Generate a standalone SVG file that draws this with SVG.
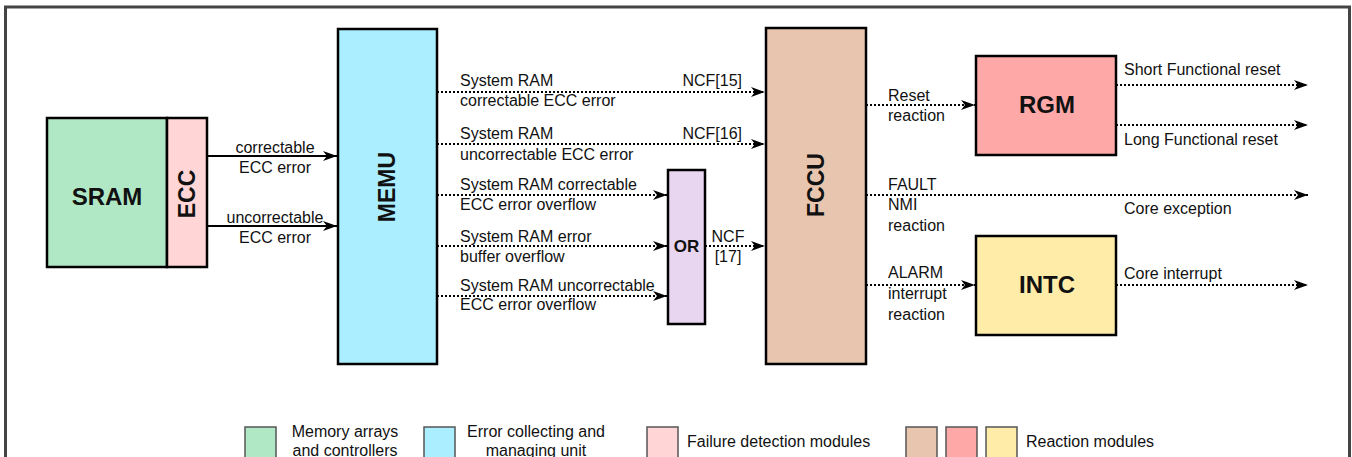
<svg xmlns="http://www.w3.org/2000/svg" width="1352" height="457" viewBox="0 0 1352 457">
<defs>
<marker id="ah" viewBox="0 0 14 10" refX="14" refY="5" markerWidth="14" markerHeight="10" markerUnits="userSpaceOnUse" orient="auto">
<path d="M0,0 L14,5 L0,10 L4,5 Z" fill="#000"/>
</marker>
</defs>
<style>
text{font-family:"Liberation Sans",Arial,sans-serif;fill:#111}
.t{font-size:16px}
.b{font-weight:bold}
.box{stroke:#000;stroke-width:2.5}
.lg{stroke:#555;stroke-width:1.5}
.sol{stroke:#000;stroke-width:2;fill:none}
.dot{stroke:#000;stroke-width:2;stroke-dasharray:2 2;fill:none}
</style>
<rect x="5.5" y="7" width="1344" height="520" fill="#fff" stroke="#444" stroke-width="3"/>

<g id="sram">
<rect class="box" x="47" y="118" width="120" height="149" fill="#b0e8c6"/>
<text class="b" x="107" y="205" font-size="24" text-anchor="middle">SRAM</text>
</g>
<g id="ecc">
<rect class="box" x="167" y="118" width="40" height="149" fill="#ffd5d5"/>
<text class="b" font-size="23" text-anchor="middle" transform="translate(195,194) rotate(-90)">ECC</text>
</g>
<g id="memu">
<rect class="box" x="338" y="29" width="99" height="335" fill="#aaeeff"/>
<text class="b" font-size="23" text-anchor="middle" transform="translate(395,187) rotate(-90)">MEMU</text>
</g>
<g id="or">
<rect class="box" x="668" y="170" width="37" height="154" fill="#e8d5f0"/>
<text class="b" x="686.5" y="252" font-size="17" text-anchor="middle">OR</text>
</g>
<g id="fccu">
<rect class="box" x="766" y="28" width="100" height="336" fill="#e8c5ae"/>
<text class="b" font-size="23" text-anchor="middle" transform="translate(824,185) rotate(-90)">FCCU</text>
</g>
<g id="rgm">
<rect class="box" x="976" y="56" width="140" height="99" fill="#ffa8a8"/>
<text class="b" x="1047" y="113" font-size="24" text-anchor="middle">RGM</text>
</g>
<g id="intc">
<rect class="box" x="976" y="236" width="140" height="99" fill="#ffeca8"/>
<text class="b" x="1047" y="293" font-size="24" text-anchor="middle">INTC</text>
</g>

<g id="connectors">
<line class="sol" x1="207" y1="156" x2="337" y2="156" marker-end="url(#ah)"/>
<line class="sol" x1="207" y1="226" x2="337" y2="226" marker-end="url(#ah)"/>
<line class="dot" x1="437" y1="92" x2="765" y2="92" marker-end="url(#ah)"/>
<line class="dot" x1="437" y1="144" x2="765" y2="144" marker-end="url(#ah)"/>
<line class="dot" x1="437" y1="195" x2="667" y2="195" marker-end="url(#ah)"/>
<line class="dot" x1="437" y1="246" x2="667" y2="246" marker-end="url(#ah)"/>
<line class="dot" x1="437" y1="296" x2="667" y2="296" marker-end="url(#ah)"/>
<line class="dot" x1="705" y1="246" x2="765" y2="246" marker-end="url(#ah)"/>
<line class="dot" x1="866" y1="105" x2="975" y2="105" marker-end="url(#ah)"/>
<line class="dot" x1="1116" y1="85" x2="1308" y2="85" marker-end="url(#ah)"/>
<line class="dot" x1="1116" y1="125" x2="1308" y2="125" marker-end="url(#ah)"/>
<line class="dot" x1="866" y1="195" x2="1308" y2="195" marker-end="url(#ah)"/>
<line class="dot" x1="866" y1="285" x2="975" y2="285" marker-end="url(#ah)"/>
<line class="dot" x1="1116" y1="285" x2="1308" y2="285" marker-end="url(#ah)"/>
</g>

<g id="labels" class="t">
<text x="275" y="153" text-anchor="middle">correctable</text>
<text x="275" y="173" text-anchor="middle">ECC error</text>
<text x="275" y="223" text-anchor="middle">uncorrectable</text>
<text x="275" y="243" text-anchor="middle">ECC error</text>

<text x="460" y="86">System RAM</text>
<text x="460" y="106">correctable ECC error</text>
<text x="742" y="86" text-anchor="end">NCF[15]</text>
<text x="460" y="139">System RAM</text>
<text x="460" y="160">uncorrectable ECC error</text>
<text x="742" y="139" text-anchor="end">NCF[16]</text>
<text x="460" y="190">System RAM correctable</text>
<text x="460" y="210">ECC error overflow</text>
<text x="460" y="242">System RAM error</text>
<text x="460" y="262">buffer overflow</text>
<text x="460" y="291">System RAM uncorrectable</text>
<text x="460" y="310">ECC error overflow</text>
<text x="728" y="242" text-anchor="middle">NCF</text>
<text x="728" y="262" text-anchor="middle">[17]</text>

<text x="888" y="101">Reset</text>
<text x="888" y="121">reaction</text>
<text x="1124" y="75">Short Functional reset</text>
<text x="1124" y="145">Long Functional reset</text>
<text x="888" y="190">FAULT</text>
<text x="888" y="210">NMI</text>
<text x="888" y="231">reaction</text>
<text x="1124" y="214">Core exception</text>
<text x="888" y="278">ALARM</text>
<text x="888" y="299">interrupt</text>
<text x="888" y="320">reaction</text>
<text x="1124" y="279">Core interrupt</text>
</g>

<g id="legend" class="t">
<rect class="lg" x="245" y="427" width="31" height="32" fill="#b0e8c6"/>
<text x="345" y="437" text-anchor="middle">Memory arrays</text>
<text x="345" y="456" text-anchor="middle">and controllers</text>
<rect class="lg" x="424" y="427" width="31" height="32" fill="#aaeeff"/>
<text x="536" y="437" text-anchor="middle">Error collecting and</text>
<text x="536" y="456" text-anchor="middle">managing unit</text>
<rect class="lg" x="647" y="427" width="31" height="32" fill="#ffd5d5"/>
<text x="687" y="447">Failure detection modules</text>
<rect class="lg" x="906" y="427" width="31" height="32" fill="#e8c5ae"/>
<rect class="lg" x="946" y="427" width="31" height="32" fill="#ffa8a8"/>
<rect class="lg" x="986" y="427" width="31" height="32" fill="#ffeca8"/>
<text x="1026" y="447">Reaction modules</text>
</g>
</svg>
